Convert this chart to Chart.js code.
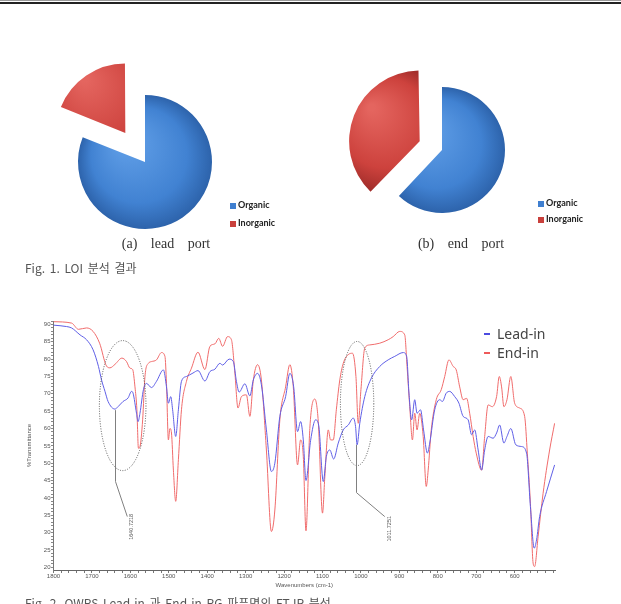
<!DOCTYPE html>
<html>
<head>
<meta charset="utf-8">
<script src="https://cdn.jsdelivr.net/npm/chart.js@4.4.0/dist/chart.umd.min.js"></script>
<style>
  html, body { margin: 0; padding: 0; background: #fff; }
  body { width: 621px; height: 604px; position: relative; overflow: hidden;
         font-family: "Noto Sans CJK KR", "Noto Sans", sans-serif; }
  .rule1 { position: absolute; left: 0; top: 0; width: 621px; height: 1px; background: #9a9a9a; }
  .rule2 { position: absolute; left: 0; top: 2px; width: 621px; height: 2px; background: #222; }
  canvas { position: absolute; }
  .key { position: absolute; font-family: Lato, "Open Sans", sans-serif; font-weight: bold;
         font-size: 9px; color: #222; line-height: 12px; white-space: nowrap; }
  .key i { display: inline-block; width: 6px; height: 6px; margin-right: 2px; vertical-align: -0.5px; }
  .sub { position: absolute; font-family: "Liberation Serif", serif; font-size: 14px; color: #333;
         line-height: 16px; white-space: nowrap; word-spacing: 10px; transform: translateX(-50%); }
  .fig { position: absolute; left: 25px; font-size: 12px; color: #555; line-height: 14px;
         white-space: nowrap; word-spacing: 2px; }
  .lg { position: absolute; font-family: "Noto Sans", sans-serif; font-size: 14px; color: #444;
        line-height: 18px; white-space: nowrap; }
  .lg i { display: inline-block; width: 6px; height: 2px; margin-right: 7px; vertical-align: 4px; }
</style>
</head>
<body>
<div class="rule1"></div>
<div class="rule2"></div>

<canvas id="pieLead" width="200" height="200" style="left:45px; top:62px"></canvas>
<canvas id="pieEnd" width="200" height="200" style="left:342px; top:50px"></canvas>

<div class="key" style="left:230px; top:199px"><i style="background:#3f7fd0"></i>Organic</div>
<div class="key" style="left:230px; top:217px"><i style="background:#c9403c"></i>Inorganic</div>
<div class="key" style="left:538px; top:197px"><i style="background:#3f7fd0"></i>Organic</div>
<div class="key" style="left:538px; top:213px"><i style="background:#c9403c"></i>Inorganic</div>

<div class="sub" style="left:166px; top:236px">(a) lead port</div>
<div class="sub" style="left:461px; top:236px">(b) end port</div>
<div class="fig" style="top:261px">Fig. 1. LOI 분석 결과</div>

<canvas id="ftir" width="621" height="294" style="left:0; top:310px"></canvas>

<div class="lg" style="left:484px; top:325px"><i style="background:#4b4be0"></i>Lead-in</div>
<div class="lg" style="left:484px; top:344px"><i style="background:#ee5a5a"></i>End-in</div>

<div class="fig" style="top:596px">Fig. 2. OWPS Lead-in 과 End-in PG 파푸면의 FT-IR 분석</div>

<script>
// LOI pies
const pieLabels = ["Organic", "Inorganic"];
const leadPortShare = [81, 19];
const endPortShare = [62, 38];

// FT-IR, Lead-in
const leadInWave = [1800, 1766, 1753, 1731, 1714, 1697, 1683, 1675, 1666, 1658, 1640, 1632, 1619, 1606,
  1597, 1593, 1584, 1580, 1575, 1566, 1558, 1545, 1532, 1514, 1506, 1501, 1495, 1490, 1482, 1475,
  1467, 1454, 1437, 1424, 1406, 1393, 1380, 1367, 1360, 1343, 1332, 1324, 1317, 1302, 1289, 1280,
  1269, 1259, 1246, 1233, 1224, 1211, 1196, 1185, 1175, 1165, 1157, 1150, 1143, 1131, 1118, 1110,
  1098, 1090, 1081, 1071, 1059, 1046, 1033, 1020, 1014, 1010, 1003, 990, 973, 951, 929, 912, 890,
  881, 875, 868, 860, 854, 845, 837, 827, 821, 808, 795, 788, 778, 769, 756, 745, 734, 721, 712,
  704, 695, 686, 678, 669, 656, 647, 639, 628, 620, 610, 597, 582, 569, 559, 549, 543, 535, 517, 496];
const leadInT = [89.8, 89.4, 89.0, 87.0, 85.6, 82.7, 77.9, 74.0, 70.7, 67.8, 65.6, 66.3, 67.8, 68.8,
  70.7, 70.2, 64.4, 62.0, 64.4, 71.2, 73.0, 71.8, 73.6, 76.9, 72.0, 67.3, 69.2, 65.4, 57.7, 65.4,
  73.6, 75.0, 76.0, 76.7, 73.7, 76.4, 77.1, 78.8, 78.3, 80.0, 79.3, 73.6, 70.5, 72.9, 69.4, 74.0,
  75.9, 72.6, 59.6, 47.6, 50.0, 63.5, 69.2, 75.9, 72.0, 59.1, 62.0, 56.7, 45.0, 56.5, 62.5, 61.0,
  44.7, 51.9, 53.8, 51.2, 55.8, 59.6, 61.0, 63.0, 60.6, 55.3, 61.5, 69.2, 74.5, 77.9, 79.8, 80.8, 81.9,
  80.8, 70.2, 62.5, 68.3, 64.4, 65.4, 59.6, 52.9, 55.8, 65.4, 68.3, 67.8, 70.2, 70.7, 69.2, 67.3, 63.5, 62.5, 58.2,
  59.6, 53.8, 48.0, 53.8, 57.7, 57.2, 58.7, 61.0, 55.8, 57.7, 60.0, 55.3, 54.8, 52.9, 37.5, 25.5, 27.9, 34.6, 41.8, 49.5];

// FT-IR, End-in
const endInWave = [1800, 1753, 1735, 1714, 1697, 1680, 1662, 1653, 1640, 1622, 1610, 1601, 1594, 1588,
  1583, 1579, 1575, 1568, 1562, 1553, 1545, 1532, 1519, 1510, 1506, 1501, 1497, 1493, 1488, 1482,
  1475, 1467, 1454, 1441, 1424, 1406, 1393, 1380, 1370, 1360, 1347, 1337, 1328, 1320, 1311, 1298,
  1289, 1280, 1269, 1259, 1246, 1233, 1224, 1211, 1196, 1185, 1176, 1165, 1157, 1150, 1143, 1133,
  1120, 1111, 1100, 1094, 1085, 1079, 1072, 1064, 1055, 1046, 1033, 1022, 1013, 1007, 1000, 990,
  977, 951, 929, 916, 899, 886, 880, 873, 866, 860, 854, 847, 838, 830, 825, 817, 804, 791, 782,
  771, 760, 752, 743, 734, 725, 717, 708, 700, 686, 678, 669, 658, 647, 640, 634, 628, 620, 610,
  600, 587, 574, 567, 559, 552, 548, 539, 526, 509, 496];
const endInT = [90.8, 90.4, 88.6, 89.0, 88.0, 84.6, 78.0, 77.5, 78.5, 80.3, 79.3, 77.4, 77.0, 72.0,
  65.4, 54.3, 54.8, 62.5, 75.0, 78.8, 79.3, 79.8, 81.9, 80.8, 73.0, 56.7, 60.0, 58.7, 48.0, 39.0,
  51.0, 65.4, 73.6, 77.4, 82.0, 77.0, 83.7, 84.4, 86.0, 83.7, 86.5, 85.6, 76.0, 65.9, 69.2, 69.7,
  63.5, 74.0, 78.4, 74.0, 53.8, 30.3, 36.5, 62.5, 72.0, 78.4, 72.0, 49.5, 56.7, 52.0, 30.5, 60.0,
  68.5, 62.0, 35.6, 46.0, 59.6, 56.7, 56.7, 65.4, 74.0, 78.8, 81.3, 81.7, 75.0, 61.5, 71.2, 83.2,
  84.1, 84.6, 85.6, 86.5, 88.0, 87.0, 77.9, 66.3, 56.7, 64.4, 59.6, 64.4, 57.7, 43.3, 48.0, 59.6, 68.3, 71.2, 75.0,
  79.8, 77.9, 76.9, 72.0, 68.3, 68.7, 64.4, 57.7, 52.9, 48.0, 57.7, 66.8, 66.3, 69.2, 75.0, 72.0, 66.3, 68.3, 75.0,
  67.3, 65.9, 63.5, 52.9, 38.5, 21.2, 20.2, 28.8, 41.3, 53.8, 61.5];

// peak call-outs (wavenumber, %T)
const calloutLabels = ["1640.7218", "1011.7251"];
const calloutWave = [1640.72, 1011.73];
const calloutFrom = [65.3, 55.3];
const calloutElbow = [44.7, 41.5];
const calloutEnd = [[1608, 34.6], [938, 34.6]];
const calloutText = [[1597, 27.9], [927, 27.4]];
const circleCenter = [[1620, 66.6], [1010, 67.2]];
const circleRadius = [[60.6, 18.75], [43.4, 17.9]];

Chart.defaults.animation = false;

// chart.js moves an offset slice by offset/4 * (1 + (1 - sin(arc)))
function slideFor(share, offset) {
  const arc = Math.min(Math.PI, 2 * Math.PI * share[1] / (share[0] + share[1]));
  return offset / 4 * (2 - Math.sin(arc));
}

function shade(chart, idx, share, radius, offset) {
  const area = chart.chartArea;
  const flat = ["#3f7fd0", "#c9403c"];
  if (!area) return flat[idx];
  let cx = (area.left + area.right) / 2;
  let cy = (area.top + area.bottom) / 2;
  if (idx === 1) {
    const total = share[0] + share[1];
    const mid = 2 * Math.PI * (share[0] + share[1] / 2) / total;
    const d = slideFor(share, offset);
    cx += d * Math.sin(mid);
    cy -= d * Math.cos(mid);
  }
  const g = chart.ctx.createRadialGradient(cx - radius * 0.3, cy - radius * 0.35, radius * 0.05, cx, cy, radius);
  if (idx === 0) {
    g.addColorStop(0, "#62a0e8");
    g.addColorStop(0.7, "#4182d2");
    g.addColorStop(1, "#2d63ab");
  } else {
    g.addColorStop(0, "#e4655f");
    g.addColorStop(0.7, "#cd423d");
    g.addColorStop(1, "#a32e2b");
  }
  return g;
}

function makePie(id, share, radius, offset) {
  new Chart(document.getElementById(id), {
    type: "pie",
    data: {
      labels: pieLabels,
      datasets: [{
        data: share,
        offset: [0, offset],
        borderWidth: 0,
        backgroundColor: (c) => shade(c.chart, c.dataIndex, share, radius, offset),
      }],
    },
    options: {
      responsive: false,
      radius: radius,
      layout: { padding: 0 },
      plugins: { legend: { display: false }, tooltip: { enabled: false } },
    },
  });
}

makePie("pieLead", leadPortShare, 67, 140);
makePie("pieEnd", endPortShare, 63, 96);

// ellipses and peak labels
const peakNotes = {
  id: "peakNotes",
  afterDatasetsDraw(chart) {
    const { ctx, scales: { x, y } } = chart;
    ctx.save();
    calloutWave.forEach((w, i) => {
      const ex = x.getPixelForValue(circleCenter[i][0]);
      const ey = y.getPixelForValue(circleCenter[i][1]);
      const rx = Math.abs(x.getPixelForValue(circleCenter[i][0] + circleRadius[i][0]) - ex);
      const ry = Math.abs(y.getPixelForValue(circleCenter[i][1] + circleRadius[i][1]) - ey);
      ctx.setLineDash([1, 1.5]);
      ctx.strokeStyle = "#555";
      ctx.lineWidth = 1;
      ctx.beginPath();
      ctx.ellipse(ex, ey, rx, ry, 0, 0, Math.PI * 2);
      ctx.stroke();

      ctx.setLineDash([]);
      ctx.strokeStyle = "#808080";
      ctx.beginPath();
      const px = Math.round(x.getPixelForValue(w)) + 0.5;
      ctx.moveTo(px, y.getPixelForValue(calloutFrom[i]));
      ctx.lineTo(px, y.getPixelForValue(calloutElbow[i]));
      ctx.lineTo(x.getPixelForValue(calloutEnd[i][0]), y.getPixelForValue(calloutEnd[i][1]));
      ctx.stroke();

      ctx.save();
      ctx.translate(x.getPixelForValue(calloutText[i][0]), y.getPixelForValue(calloutText[i][1]));
      ctx.rotate(-Math.PI / 2);
      ctx.font = '5.5px "Liberation Sans"';
      ctx.fillStyle = "#555";
      ctx.textAlign = "left";
      ctx.textBaseline = "middle";
      ctx.fillText(calloutLabels[i], 0, 0);
      ctx.restore();
    });
    ctx.restore();
  },
};

const tickFont = { family: "Liberation Sans", size: 6 };

new Chart(document.getElementById("ftir"), {
  type: "line",
  data: {
    datasets: [
      {
        label: "Lead-in",
        data: leadInWave.map((w, i) => ({ x: w, y: leadInT[i] })),
        borderColor: "#5f5fe6",
        borderWidth: 1,
        pointRadius: 0,
        cubicInterpolationMode: "monotone",
      },
      {
        label: "End-in",
        data: endInWave.map((w, i) => ({ x: w, y: endInT[i] })),
        borderColor: "#f06c6c",
        borderWidth: 1,
        pointRadius: 0,
        cubicInterpolationMode: "monotone",
      },
    ],
  },
  options: {
    responsive: false,
    layout: { padding: { left: 0, top: 11, right: 66, bottom: 0 } },
    plugins: { legend: { display: false }, tooltip: { enabled: false } },
    scales: {
      x: {
        type: "linear",
        reverse: true,
        min: 495,
        max: 1800,
        afterFit: (s) => { s.height = 34; },
        border: { display: true, color: "#666" },
        grid: { drawOnChartArea: false, drawTicks: true, tickLength: 3, color: "#777" },
        ticks: {
          stepSize: 20,
          includeBounds: false,
          autoSkip: false,
          maxRotation: 0,
          minRotation: 0,
          padding: 0,
          font: tickFont,
          color: "#555",
          callback: (v) => (v % 100 === 0 && v >= 600 ? String(v) : ""),
        },
        title: {
          display: true,
          text: "Wavenumbers (cm-1)",
          font: tickFont,
          color: "#555",
          padding: { top: 0, bottom: 15 },
        },
      },
      y: {
        min: 19.2,
        max: 91,
        afterFit: (s) => { s.width = 53.5; },
        border: { display: true, color: "#777", dash: [1.5, 1.5] },
        grid: { drawOnChartArea: false, drawTicks: true, tickLength: 2.5, color: "#888" },
        ticks: {
          stepSize: 1,
          includeBounds: false,
          autoSkip: false,
          padding: 0.5,
          font: tickFont,
          color: "#555",
          callback: (v) => (v % 5 === 0 ? String(v) : ""),
        },
        title: {
          display: true,
          text: "%Transmittance",
          font: tickFont,
          color: "#555",
          padding: { top: 26, bottom: 0 },
        },
      },
    },
  },
  plugins: [peakNotes],
});
</script>
</body>
</html>
